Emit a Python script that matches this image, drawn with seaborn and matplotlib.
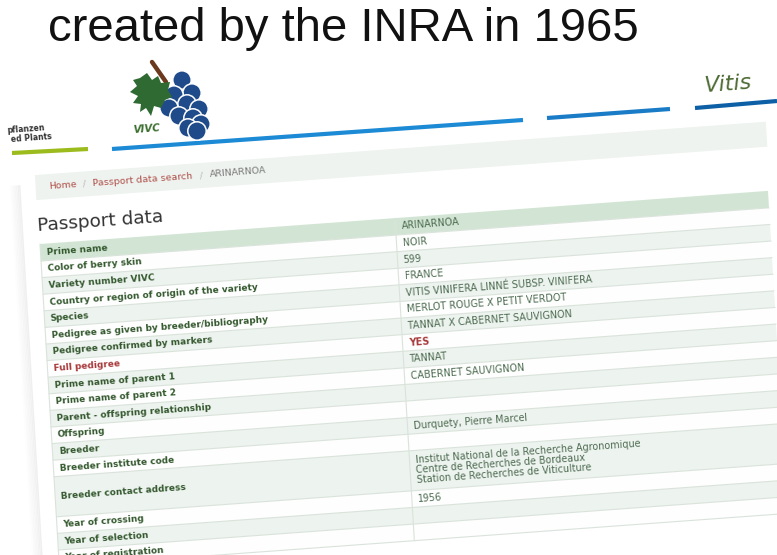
import matplotlib
matplotlib.use("Agg")
import matplotlib.pyplot as plt
import matplotlib.patches as mpatches
from matplotlib.transforms import Affine2D
import numpy as np
import seaborn as sns

# ---- content -------------------------------------------------------------
title = "created by the INRA in 1965"
site_name = "Vitis"
logo_name = "VIVC"
partner_lines = ["pflanzen", "ed Plants"]
breadcrumb = ["Home", "Passport data search", "ARINARNOA"]
section = "Passport data"

labels = [
    "Prime name",
    "Color of berry skin",
    "Variety number VIVC",
    "Country or region of origin of the variety",
    "Species",
    "Pedigree as given by breeder/bibliography",
    "Pedigree confirmed by markers",
    "Full pedigree",
    "Prime name of parent 1",
    "Prime name of parent 2",
    "Parent - offspring relationship",
    "Offspring",
    "Breeder",
    "Breeder institute code",
    "Breeder contact address",
    "Year of crossing",
    "Year of selection",
    "Year of registration",
]
values = [
    "ARINARNOA",
    "NOIR",
    "599",
    "FRANCE",
    "VITIS VINIFERA LINNÉ SUBSP. VINIFERA",
    "MERLOT ROUGE X PETIT VERDOT",
    "TANNAT X CABERNET SAUVIGNON",
    "YES",
    "TANNAT",
    "CABERNET SAUVIGNON",
    "",
    "",
    "Durquety, Pierre Marcel",
    "",
    "Institut National de la Recherche Agronomique\n"
    "Centre de Recherches de Bordeaux\n"
    "Station de Recherches de Viticulture",
    "1956",
    "",
    "",
]

# ---- style ---------------------------------------------------------------
sns.set_theme(style="white")
plt.rcParams["font.family"] = ["DejaVu Sans"]

green_head = "#d2e5d4"
row_light = "#edf3ef"
row_white = "#fdfefd"
sep_col = "#dae3db"
label_col = "#35592f"
value_col = "#4c6a4f"
red_col = "#a8383a"

fig = plt.figure(figsize=(7.77, 5.55), dpi=100)
ax = fig.add_axes([0, 0, 1, 1])
ax.set_xlim(0, 777)
ax.set_ylim(555, 0)
ax.axis("off")

# page plane -> screen: the screenshot is tilted and slightly sheared
slope_row, slope_col = 0.073, 0.06
page = Affine2D(np.array([[1.0, slope_col, 40.0],
                          [-slope_row, 1.0, 244.0],
                          [0.0, 0.0, 1.0]])) + ax.transData
tilt = np.degrees(np.arctan(slope_row))

# title (flat)
ax.text(48, 41, title, fontsize=34, family="Liberation Sans", color="#111111",
        va="baseline", ha="left")

# soft shadow along the left edge of the page
shade = sns.blend_palette(["#efefef", "#ffffff"], 8)
for i, c in enumerate(shade):
    u0 = -16 - i * 1.5
    ax.add_patch(mpatches.Polygon([(u0, -60), (u0 - 1.5, -60), (u0 - 1.5, 330), (u0, 330)],
                                  closed=True, facecolor=c, edgecolor="none",
                                  transform=page, zorder=0))

# ---- header strip ----------------------------------------------------------
ax.plot([12, 88], [153, 149], color="#9cbc1e", lw=3, solid_capstyle="butt")
ax.plot([112, 523], [149, 120], color="#1c8ad4", lw=3, solid_capstyle="butt")
ax.plot([547, 670], [118, 109], color="#1a7cc6", lw=3, solid_capstyle="butt")
ax.plot([695, 777], [108, 101], color="#0d5fa6", lw=3, solid_capstyle="butt")

ax.text(7, 131, partner_lines[0], fontsize=5.6, weight="bold", color="#333333",
        ha="left", va="center", rotation=tilt, rotation_mode="anchor")
ax.text(11, 140, partner_lines[1], fontsize=5.6, weight="bold", color="#333333",
        ha="left", va="center", rotation=tilt, rotation_mode="anchor")

ax.text(752, 83, site_name, fontsize=16, style="italic", color="#4d6b33",
        ha="right", va="center", rotation=tilt, rotation_mode="anchor")

# logo: stem, grape cluster, leaf in front
ax.plot([152, 166], [62, 82], color="#6b3a1e", lw=3.2, solid_capstyle="round", zorder=3)
grapes = [(182, 80), (192, 93), (174, 95), (187, 104), (199, 109), (169, 108),
          (179, 116), (193, 118), (201, 124), (188, 128), (197, 131)]
for gx, gy in grapes:
    ax.add_patch(mpatches.Circle((gx, gy), 9.2, facecolor="#1f4b8b", edgecolor="white",
                                 lw=1.1, zorder=4))
leaf = [(140, 78), (147, 73), (152, 80), (158, 76), (161, 83), (170, 82), (168, 90),
        (172, 97), (165, 100), (161, 108), (154, 106), (151, 116), (146, 108),
        (140, 112), (141, 104), (133, 103), (138, 96), (130, 92), (137, 86), (133, 80)]
ax.add_patch(mpatches.Polygon(leaf, closed=True, facecolor="#2f6a33", edgecolor="none", zorder=5))
ax.text(133, 130, logo_name, fontsize=7.4, weight="bold", style="italic", color="#3a6e2e",
        ha="left", va="center", rotation=tilt, rotation_mode="anchor")

# ---- breadcrumb ----------------------------------------------------------
ax.add_patch(mpatches.Rectangle((-1, -69), 731, 25, facecolor="#eef3ef", edgecolor="none",
                                transform=page, zorder=1))
crumb_u = [12, 56, 173]
crumb_col = ["#b0504a", "#b0504a", "#7a7a7a"]
for txt, u, c in zip(breadcrumb, crumb_u, crumb_col):
    ax.text(u, -56.5, txt, fontsize=6.8, color=c, ha="left", va="center",
            rotation=tilt, rotation_mode="anchor", transform=page, zorder=2)
for u in [46, 163]:
    ax.text(u, -56.5, "/", fontsize=6.8, color="#bbbbbb", ha="left", va="center",
            rotation=tilt, rotation_mode="anchor", transform=page, zorder=2)

ax.text(-1.5, -13, section, fontsize=13.3, color="#333333", ha="left", va="baseline",
        rotation=tilt, rotation_mode="anchor", transform=page, zorder=2)

# ---- passport table ------------------------------------------------------
table_w, split_u = 728, 355
v = 0.0
for i, (lab, val) in enumerate(zip(labels, values)):
    h = 17 if i == 0 else (40 if "\n" in val else 16.6)
    if i == 0:
        fc = green_head
    else:
        fc = row_light if i % 2 == 0 else row_white
    ax.add_patch(mpatches.Rectangle((0, v), table_w, h, facecolor=fc, edgecolor="none",
                                    transform=page, zorder=1))
    ax.plot([0, table_w], [v + h, v + h], color=sep_col, lw=0.8, transform=page, zorder=2)
    mid = v + h / 2
    lab_c = red_col if lab == "Full pedigree" else label_col
    ax.text(6, mid, lab, fontsize=6.5, weight="bold", color=lab_c, ha="left", va="center",
            rotation=tilt, rotation_mode="anchor", transform=page, zorder=3)
    if val:
        bold = val == "YES"
        ax.text(split_u + 6, mid, val, fontsize=6.9, color=red_col if bold else value_col,
                weight="bold" if bold else "normal", ha="left", va="center",
                linespacing=1.0, rotation=tilt, rotation_mode="anchor",
                transform=page, zorder=3)
    v += h

ax.plot([split_u, split_u], [0, v], color=sep_col, lw=0.8, transform=page, zorder=2)
ax.plot([0, 0], [0, v], color=sep_col, lw=0.8, transform=page, zorder=2)

fig.savefig("out.png", dpi=100)
